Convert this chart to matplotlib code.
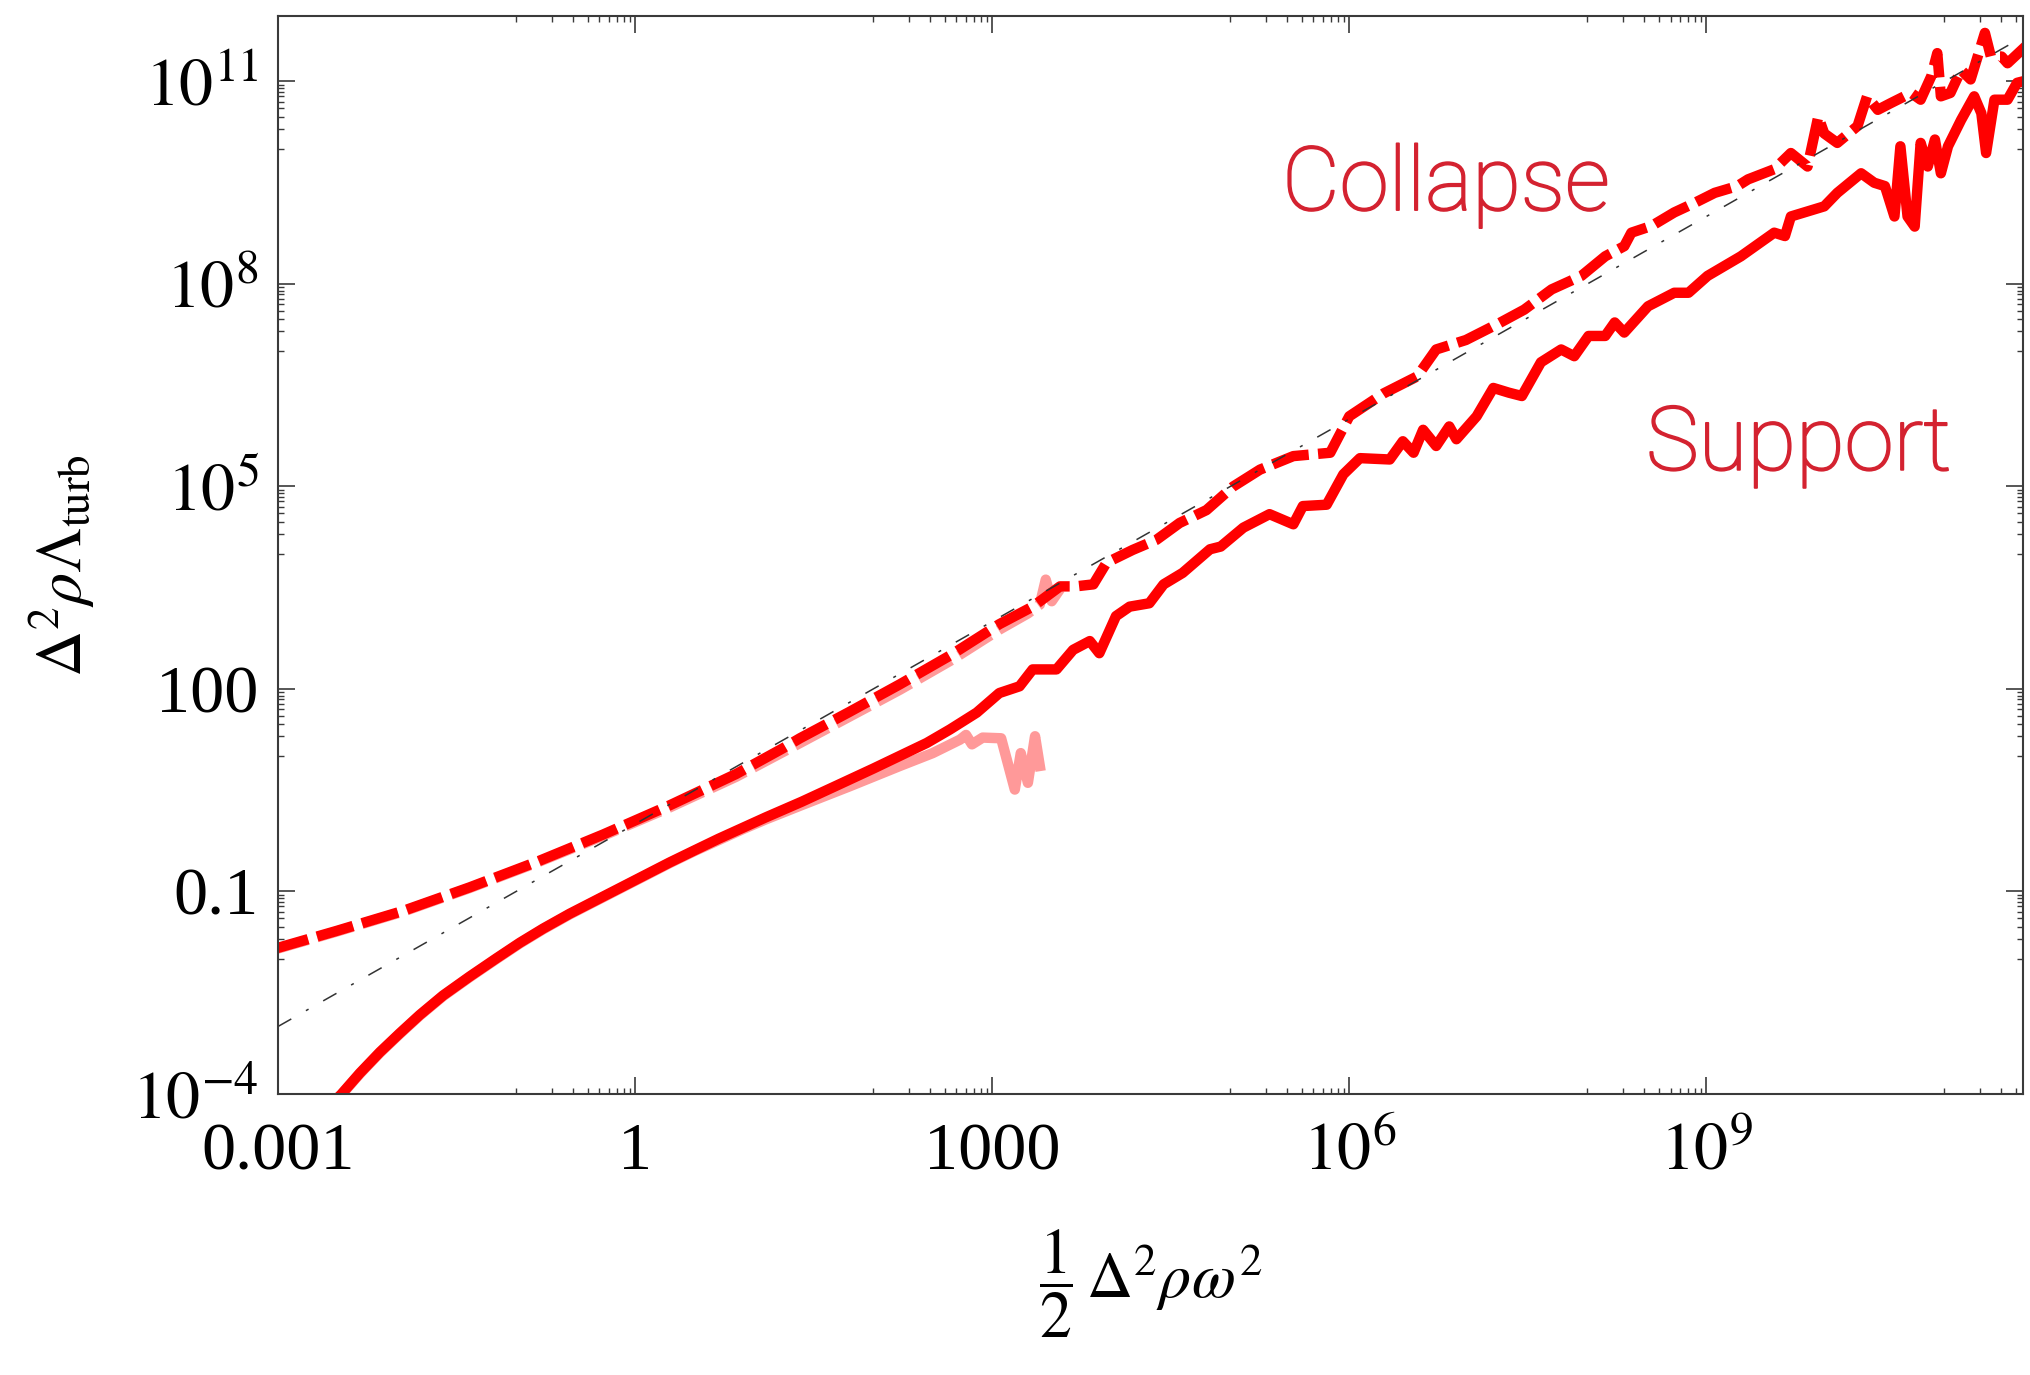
"""Collapse / Support: turbulence term vs 1/2 Delta^2 rho omega^2 (log-log)"""
import numpy as np
import matplotlib
matplotlib.use("Agg")
import matplotlib.pyplot as plt
import matplotlib.patheffects as pe
from matplotlib.ticker import FixedLocator, NullFormatter

plt.rcParams["font.family"] = ["Liberation Serif", "DejaVu Serif"]
plt.rcParams["mathtext.fontset"] = "stix"

# values, as log10 of each axis
support_lx = [-2.55, -2.466, -2.312, -2.144, -1.977, -1.81, -1.613, -1.39, -1.165, -0.969, -0.773,
              -0.55, -0.34, -0.13, 0.08, 0.29, 0.50, 0.70, 0.90, 1.10, 1.40, 1.67,
              2.0, 2.225, 2.45, 2.645, 2.87, 3.06, 3.23, 3.34, 3.54, 3.68, 3.82, 3.90, 4.04, 4.155, 4.32,
              4.44, 4.60, 4.83, 4.92, 5.11, 5.33, 5.53, 5.61, 5.81, 5.95, 6.09, 6.34, 6.45, 6.54, 6.62,
              6.73, 6.84, 6.90, 7.07, 7.21, 7.34, 7.45, 7.61, 7.78, 7.89, 8.01, 8.15, 8.23, 8.31, 8.51,
              8.73, 8.85, 9.01, 9.29, 9.57, 9.66, 9.71, 9.99, 10.10, 10.30, 10.41, 10.50, 10.58, 10.63,
              10.69, 10.75, 10.80, 10.86, 10.92, 10.97, 11.03, 11.14, 11.25, 11.31, 11.35, 11.42, 11.53,
              11.61, 11.70]
support_ly = [-4.15, -4.0, -3.69, -3.38, -3.10, -2.83, -2.54, -2.26, -1.99, -1.76, -1.55,
              -1.33, -1.14, -0.95, -0.76, -0.57, -0.39, -0.22, -0.06, 0.10, 0.33, 0.55,
              0.82, 1.01, 1.20, 1.40, 1.65, 1.94, 2.04, 2.29, 2.29, 2.58, 2.71, 2.53, 3.08, 3.22, 3.27,
              3.55, 3.72, 4.07, 4.11, 4.39, 4.59, 4.44, 4.71, 4.73, 5.18, 5.42, 5.40, 5.67, 5.50, 5.84,
              5.60, 5.89, 5.70, 6.04, 6.46, 6.39, 6.34, 6.84, 7.03, 6.93, 7.23, 7.23, 7.43, 7.28, 7.67,
              7.87, 7.87, 8.12, 8.41, 8.76, 8.71, 9.00, 9.15, 9.35, 9.64, 9.50, 9.45, 9.00, 10.04,
              9.00, 8.85, 10.09, 9.74, 10.14, 9.64, 10.04, 10.43, 10.78, 10.53, 9.94, 10.73, 10.73,
              10.98, 11.02]

collapse_lx = [-3.05, -2.508, -1.948, -1.389, -0.829, -0.27, 0.29, 0.849, 1.24, 1.385, 1.80, 2.225,
               2.65, 3.06, 3.34, 3.57, 3.70, 3.85, 3.96, 4.18, 4.38, 4.575, 4.80, 5.025, 5.25, 5.53,
               5.84, 6.00, 6.29, 6.57, 6.73, 6.98, 7.26, 7.47, 7.70, 7.95, 8.15, 8.31, 8.37, 8.54, 8.73,
               8.90, 9.07, 9.26, 9.35, 9.57, 9.71, 9.85, 9.94, 9.99, 10.10, 10.27, 10.35, 10.44, 10.55,
               10.72, 10.80, 10.89, 10.94, 10.97, 11.05, 11.14, 11.22, 11.34, 11.39, 11.48, 11.53, 11.70]
collapse_ly = [-1.86, -1.584, -1.287, -0.938, -0.563, -0.157, 0.276, 0.741, 1.12, 1.27, 1.66, 2.07,
               2.50, 2.96, 3.22, 3.52, 3.52, 3.55, 3.87, 4.06, 4.21, 4.46, 4.65, 5.00, 5.25, 5.45,
               5.50, 6.04, 6.38, 6.63, 7.03, 7.17, 7.42, 7.62, 7.92, 8.12, 8.41, 8.56, 8.76, 8.86, 9.06,
               9.20, 9.35, 9.45, 9.55, 9.70, 9.94, 9.74, 10.48, 10.23, 10.09, 10.34, 10.78, 10.58, 10.68,
               10.83, 10.73, 11.08, 11.42, 10.78, 10.83, 11.17, 11.03, 11.72, 11.37, 11.37, 11.27, 11.55]

# lighter (shorter) runs
collapse_short_lx = [-3.05, -2.508, -1.948, -1.389, -0.829, -0.27, 0.29, 0.849, 1.385, 1.80, 2.225,
                     2.65, 3.06, 3.30, 3.40, 3.45, 3.50, 3.57]
collapse_short_ly = [-1.87, -1.594, -1.297, -0.948, -0.575, -0.175, 0.245, 0.70, 1.20, 1.59, 1.99,
                     2.42, 2.88, 3.12, 3.25, 3.62, 3.30, 3.48]
support_short_lx = [-2.55, -2.466, -2.312, -2.144, -1.977, -1.81, -1.613, -1.39, -1.165, -0.969,
                    -0.773, -0.55, -0.34, -0.13, 0.08, 0.29, 0.50, 0.70, 0.90, 1.10, 1.40, 1.805,
                    2.225, 2.50, 2.73, 2.78, 2.83, 2.92, 3.075, 3.19, 3.24, 3.30, 3.36, 3.40]
support_short_ly = [-4.16, -4.01, -3.70, -3.39, -3.11, -2.84, -2.55, -2.27, -2.00, -1.77,
                    -1.56, -1.34, -1.15, -0.96, -0.77, -0.58, -0.40, -0.24, -0.08, 0.07, 0.28, 0.56,
                    0.86, 1.05, 1.25, 1.32, 1.18, 1.28, 1.27, 0.51, 1.05, 0.61, 1.30, 0.86]

# dash-dot reference line
ref_lx = [-3.0, 11.56]
ref_ly = [-3.0, 11.56]

x_major = [1e-3, 1, 1e3, 1e6, 1e9]
x_labels = ["0.001", "1", "1000", r"$10^{6}$", r"$10^{9}$"]
y_major = [1e-4, 0.1, 100, 1e5, 1e8, 1e11]
y_labels = [r"$10^{-4}$", "0.1", "100", r"$10^{5}$", r"$10^{8}$", r"$10^{11}$"]

RED = "#ff0000"
PINK = "#ff9999"
LABEL_RED = "#d42230"


def p10(v):
    return np.power(10.0, np.asarray(v))


fig = plt.figure(figsize=(20.3, 13.75), dpi=100)
ax = fig.add_axes([278 / 2030, 281 / 1375, 1745 / 2030, 1078 / 1375])
ax.set_xscale("log")
ax.set_yscale("log")

LW = 7.5
ax.plot(p10(collapse_short_lx), p10(collapse_short_ly), color=PINK, lw=LW,
        dashes=(3.6, 0.9), solid_joinstyle="round")
ax.plot(p10(support_short_lx), p10(support_short_ly), color=PINK, lw=LW, solid_joinstyle="round")
ax.plot(p10(collapse_lx), p10(collapse_ly), color=RED, lw=LW, dashes=(3.6, 0.9))
ax.plot(p10(support_lx), p10(support_ly), color=RED, lw=LW, solid_joinstyle="round")
ax.plot(p10(ref_lx), p10(ref_ly), color="#333333", lw=1.1, dashes=(10, 11, 2, 11))

ax.set_xlim(1e-3, 10 ** 11.66)
ax.set_ylim(1e-4, 10 ** 11.97)

ax.set_xticks(x_major)
ax.set_xticklabels(x_labels)
ax.set_yticks(y_major)
ax.set_yticklabels(y_labels)
x_minor = [m * 10.0 ** (k - 1) for k in (-3, 0, 3, 6, 9, 12) for m in range(1, 10)]
y_minor = [m * 10.0 ** (k - 1) for k in (-4, -1, 2, 5, 8, 11) for m in range(1, 10)]
ax.xaxis.set_minor_locator(FixedLocator(x_minor))
ax.yaxis.set_minor_locator(FixedLocator(y_minor))
ax.xaxis.set_minor_formatter(NullFormatter())
ax.yaxis.set_minor_formatter(NullFormatter())

ax.tick_params(which="both", direction="in", top=True, right=True, color="#3a3a3a")
ax.tick_params(which="major", length=12, width=1.2, labelsize=49)
ax.tick_params(which="minor", length=4.5, width=1.0)
ax.tick_params(axis="x", which="major", pad=54)
ax.tick_params(axis="y", which="major", pad=14)
for lab in ax.get_xticklabels():
    lab.set_verticalalignment("baseline")
for lab in ax.get_yticklabels():
    lab.set_verticalalignment("center_baseline")
for sp in ax.spines.values():
    sp.set_color("#3a3a3a")
    sp.set_linewidth(1.5)

ax.set_xlabel(r"$\dfrac{1}{2}\,\Delta^{2}\rho\omega^{2}$", fontsize=46)
ax.xaxis.set_label_coords(0.5, -0.123)
ax.set_ylabel(r"$\Delta^{2}\rho\Lambda_{\mathrm{turb}}$", fontsize=46)
ax.yaxis.set_label_coords(-0.104, 0.49)

# light sans labels, thickened a little to match the reference stroke
label_fx = [pe.withStroke(linewidth=1.3, foreground=LABEL_RED)]
ax.text(0.5754, 0.820, "Collapse", transform=ax.transAxes, fontsize=64, color=LABEL_RED,
        family=["Roboto", "DejaVu Sans"], fontweight="light", ha="left", va="baseline",
        path_effects=label_fx)
ax.text(0.784, 0.579, "Support", transform=ax.transAxes, fontsize=64, color=LABEL_RED,
        family=["Roboto", "DejaVu Sans"], fontweight="light", ha="left", va="baseline",
        path_effects=label_fx)

fig.savefig("out.png", dpi=100)
plt.close(fig)
